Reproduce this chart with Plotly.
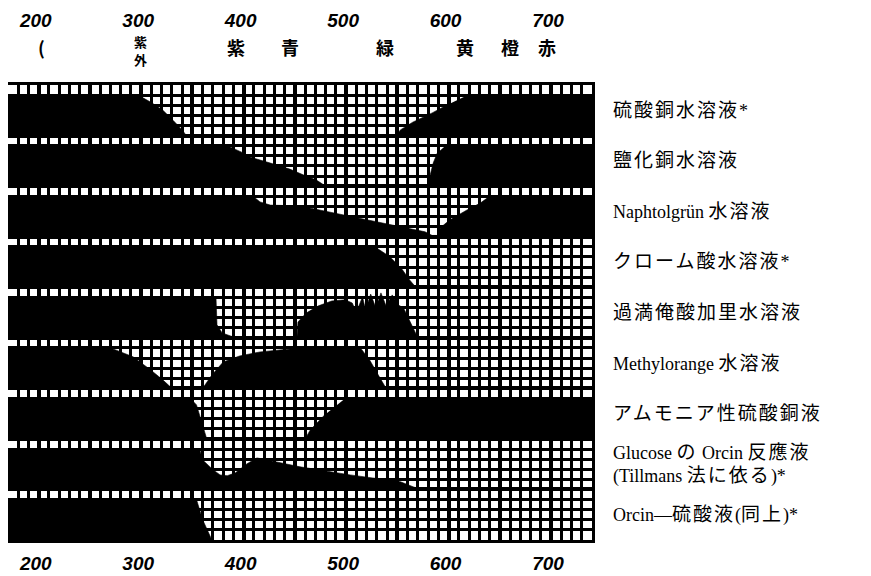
import re
import plotly.graph_objects as go

# ---------------- data ----------------
wl_min, wl_max = 170, 740          # wavelength range of the grid (nm)
n_bands = 9
rows_per_band = 5                   # 1 reference row + 4 rows of layer thickness

solution_names = [
    "硫酸銅水溶液*",
    "鹽化銅水溶液",
    "Naphtolgrün 水溶液",
    "クローム酸水溶液*",
    "過満俺酸加里水溶液",
    "Methylorange 水溶液",
    "アムモニア性硫酸銅液",
    "Glucose の Orcin 反應液<br>(Tillmans 法に依る)*",
    "Orcin—硫酸液(同上)*",
]

color_names = ["(", "紫外", "紫", "青", "緑", "黄", "橙", "赤"]
color_wl = [203, 299, 393, 445, 538, 616, 660, 696]

# absorbed (black) regions: polygons of wavelength (nm) / relative depth (0 = top, 1 = bottom)
cuso4_wl = [[170, 297, 309, 321, 331, 340, 344, 170],
            [619, 740, 740, 549, 553, 565, 584, 598]]
cuso4_depth = [[0, 0, 0.17, 0.37, 0.62, 0.86, 1, 1],
               [0, 0, 1, 1, 0.86, 0.67, 0.44, 0.25]]

cucl2_wl = [[170, 384, 398, 406, 426, 445, 458, 471, 477, 479, 170],
            [597, 740, 740, 580, 582, 585, 589]]
cucl2_depth = [[0, 0, 0.16, 0.28, 0.43, 0.58, 0.72, 0.85, 0.95, 1, 1],
               [0, 0, 1, 1, 0.73, 0.43, 0.18]]

naphthol_wl = [[170, 409, 416, 426, 455, 487, 520, 553, 577, 584, 589, 592, 601, 618,
                631, 638, 642, 740, 740, 170]]
naphthol_depth = [[0, 0, 0.14, 0.22, 0.24, 0.41, 0.59, 0.76, 0.88, 0.97, 0.97, 0.78, 0.59,
                   0.34, 0.17, 0.04, 0, 0, 1, 1]]

chromic_wl = [[170, 528, 543, 551, 555, 562, 568, 170]]
chromic_depth = [[0, 0, 0.25, 0.45, 0.57, 0.82, 1, 1]]

kmno4_wl = [[170, 373, 374, 379, 392, 170],
            [452, 453, 461, 473, 486, 499, 506, 510, 516, 519, 524, 529, 534, 539, 545,
             551, 556, 562, 567, 570]]
kmno4_depth = [[0, 0, 0.68, 0.88, 1, 1],
               [1, 0.61, 0.39, 0.21, 0.09, 0.06, 0.14, 0.36, -0.01, 0.31, -0.08, 0.26,
                -0.11, 0.21, -0.06, 0.19, 0.26, 0.56, 0.81, 1]]

methyl_wl = [[170, 270, 292, 309, 321, 330, 170],
             [360, 369, 380, 396, 416, 455, 514, 523, 533, 539]]
methyl_depth = [[0, 0, 0.22, 0.54, 0.79, 1, 1],
                [1, 0.67, 0.35, 0.2, 0.1, 0, 0, 0.3, 0.74, 1]]

ammine_wl = [[170, 348, 354, 357, 360, 364, 170],
             [499, 740, 740, 460, 465, 479]]
ammine_depth = [[0, 0, 0.16, 0.41, 0.65, 1, 1],
                [0, 0, 1, 1, 0.78, 0.41]]

glucose_wl = [[170, 357, 360, 370, 377, 384, 392, 403, 413, 431, 455, 504, 553, 572, 170]]
glucose_depth = [[0, 0, 0.27, 0.51, 0.64, 0.66, 0.59, 0.37, 0.22, 0.32, 0.44, 0.64, 0.81, 1, 1]]

orcin_wl = [[170, 354, 360, 369, 170]]
orcin_depth = [[0, 0, 0.5, 1, 1]]

bands_wl = [cuso4_wl, cucl2_wl, naphthol_wl, chromic_wl, kmno4_wl,
            methyl_wl, ammine_wl, glucose_wl, orcin_wl]
bands_depth = [cuso4_depth, cucl2_depth, naphthol_depth, chromic_depth, kmno4_depth,
               methyl_depth, ammine_depth, glucose_depth, orcin_depth]

# ---------------- figure ----------------
total_rows = n_bands * rows_per_band
fig = go.Figure()

for i, (polys_wl, polys_d) in enumerate(zip(bands_wl, bands_depth)):
    top = total_rows - rows_per_band * i - 1          # top of the absorption zone
    for wl, d in zip(polys_wl, polys_d):
        fig.add_trace(go.Scatter(
            x=wl, y=[top - (rows_per_band - 1) * v for v in d],
            mode="lines", fill="toself", fillcolor="black",
            line=dict(color="black", width=0.6),
            hoverinfo="skip", showlegend=False))

# invisible trace so the top axis is drawn
fig.add_trace(go.Scatter(x=[wl_min], y=[0], xaxis="x2", mode="markers",
                         marker=dict(opacity=0), hoverinfo="skip", showlegend=False))

tickfont = dict(family="Liberation Sans", size=19, style="italic", weight="bold",
                color="black")
axis_common = dict(range=[wl_min, wl_max], tick0=200, dtick=50, ticklabelstep=2,
                   ticks="", tickfont=tickfont, zeroline=False, automargin=False)

# the page body adds an 8px offset, so the figure is 8px smaller on each axis
fig.update_layout(
    width=863, height=568,
    margin=dict(l=0, r=279, t=77, b=36),
    paper_bgcolor="white", plot_bgcolor="white",
    xaxis=dict(**axis_common, showgrid=True, gridcolor="black", gridwidth=3.6,
               minor=dict(dtick=10, tick0=170, showgrid=True, gridcolor="black",
                          gridwidth=2.8, ticks=""),
               showline=True, linecolor="black", linewidth=2.5, mirror=True,
               ticklabelstandoff=4, ticklabelshift=-3),
    xaxis2=dict(**axis_common, overlaying="x", side="top", anchor="y",
                showgrid=False, showline=False, ticklabelstandoff=53,
                ticklabelshift=-3),
    yaxis=dict(range=[0, total_rows], tick0=0, dtick=rows_per_band,
               showticklabels=False, ticks="", zeroline=False, automargin=False,
               showgrid=True, gridcolor="black", gridwidth=3.6,
               minor=dict(dtick=1, tick0=0, showgrid=True, gridcolor="black",
                          gridwidth=2.6, ticks=""),
               showline=True, linecolor="black", linewidth=2.5, mirror=True),
)


def style_label(s):
    return re.sub(r"([\u3040-\u30ff\u4e00-\u9fff\u3000-\u303f]+)",
                  r'<span style="font-size:19px;letter-spacing:2px">\1</span>', s)


for i, name in enumerate(solution_names):
    fig.add_annotation(
        x=1.0325, xref="paper", xanchor="left",
        y=total_rows - rows_per_band * i - rows_per_band / 2, yref="y", yanchor="middle",
        text=style_label(name), showarrow=False, align="left",
        font=dict(family="Liberation Serif, Noto Sans CJK JP", size=18, color="black"))

color_font = dict(family="Noto Sans CJK JP", weight="bold", color="black")
for name, wl in zip(color_names, color_wl):
    if len(name) == 2:   # written vertically, one character above the other
        for k, ch in enumerate(name):
            fig.add_annotation(x=wl, xref="x", y=1.0967 - 0.0396 * k, yref="paper",
                               yanchor="middle", text=ch, showarrow=False,
                               borderpad=0,
                               font=dict(**color_font, size=13))
    else:
        fig.add_annotation(x=wl, xref="x", y=1.0835, yref="paper", yanchor="middle",
                           text=name, showarrow=False, font=dict(**color_font, size=18))

fig.write_html("out.html")
